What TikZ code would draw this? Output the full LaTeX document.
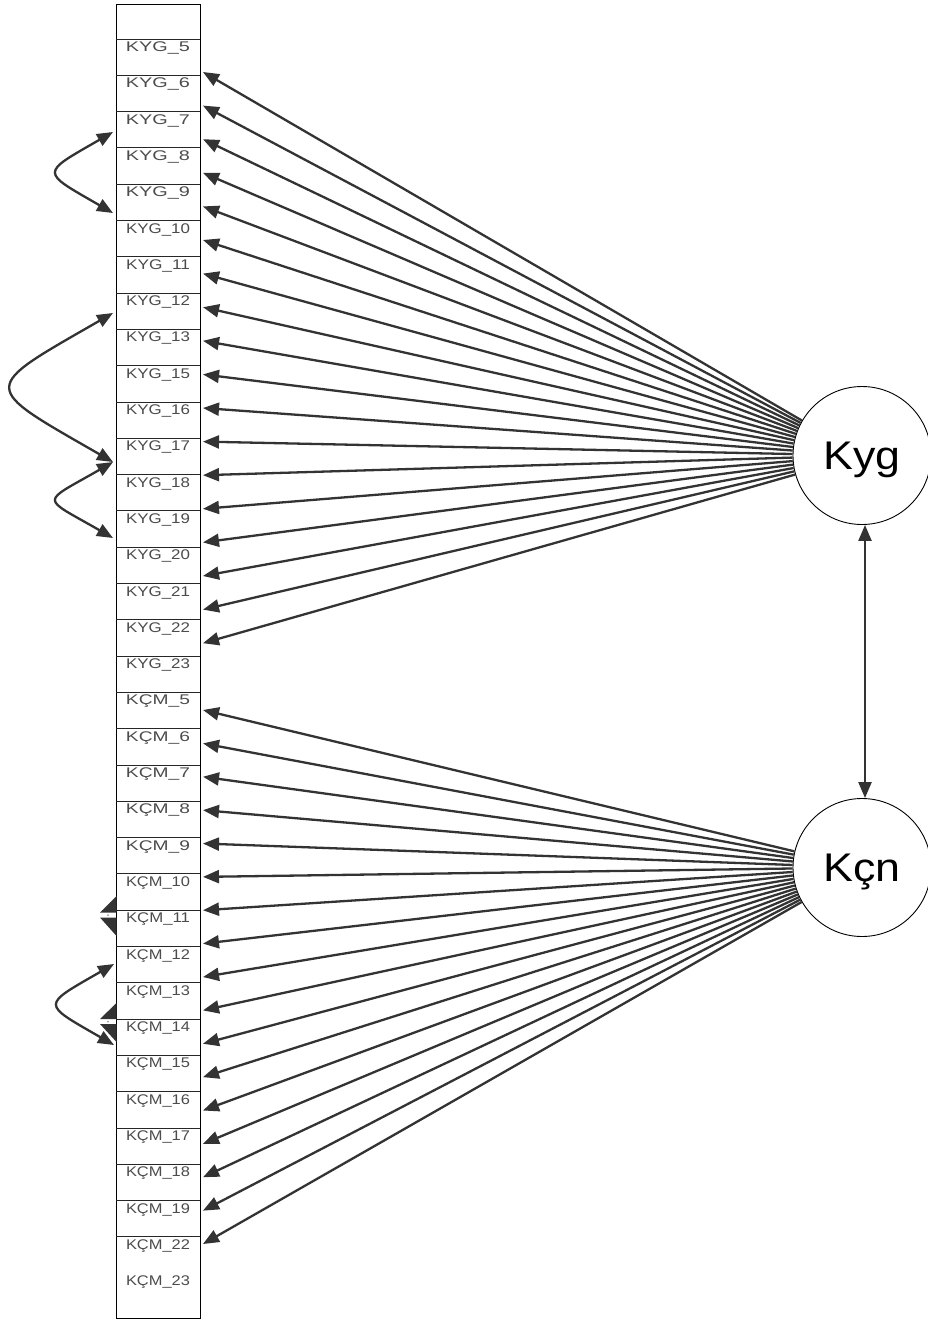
\documentclass[tikz,border=0pt]{standalone}
\usepackage{fontspec}
\usepackage{graphicx}
\setmainfont{Liberation Sans}
\usetikzlibrary{arrows.meta}
\definecolor{ln}{HTML}{333333}
\begin{document}
\begin{tikzpicture}[x=1pt,y=-1pt,
  arr/.style={draw=ln, line width=2.3pt, -{Triangle[length=16pt,width=13pt]}},
  dbl/.style={draw=ln, line width=2.3pt, {Triangle[length=16pt,width=13pt]}-{Triangle[length=16pt,width=13pt]}},
  lat/.style={circle, draw=black, line width=0.9pt, fill=white, minimum size=138pt, inner sep=0pt, text depth=0pt, font=\fontsize{40}{40}\selectfont},
  lbl/.style={inner sep=0pt, anchor=base, text=black!70, font=\fontsize{14}{14}\selectfont},
  cell/.style={draw=black!85, line width=1pt},
  colbox/.style={draw=black, line width=1.1pt, fill=white, minimum width=84pt, minimum height=1314pt, inner sep=0pt, anchor=north west}]
\useasboundingbox (0,0) rectangle (927,1320);
\fill[white] (0,0) rectangle (927,1320);
% column
\node[colbox] (col) at (116,4) {};
\foreach \i in {0,...,33} {
  \pgfmathsetmacro\yy{39+36.3*\i}
  \draw[cell] (116,\yy) -- (200,\yy);
}
\foreach \t [count=\i from 0] in {KYG\_5,KYG\_6,KYG\_7,KYG\_8,KYG\_9,KYG\_10,KYG\_11,KYG\_12,KYG\_13,KYG\_15,KYG\_16,KYG\_17,KYG\_18,KYG\_19,KYG\_20,KYG\_21,KYG\_22,KYG\_23,KÇM\_5,KÇM\_6,KÇM\_7,KÇM\_8,KÇM\_9,KÇM\_10,KÇM\_11,KÇM\_12,KÇM\_13,KÇM\_14,KÇM\_15,KÇM\_16,KÇM\_17,KÇM\_18,KÇM\_19,KÇM\_22,KÇM\_23} {
  \pgfmathsetmacro\yy{39+36.3*\i+12.5}
  \node[lbl] (r\i) at (158,\yy) {\resizebox{64pt}{\height}{\t}};
}
% latent variables
\node[lat] (kyg) at (862,455.5) {\scalebox{1.12}[1]{Kyg}};
\node[lat] (kcn) at (862,867.5) {\scalebox{1.12}[1]{Kçn}};
\draw[dbl] ([xshift=3pt]kyg.south) -- ([xshift=3pt]kcn.north);
% loadings
\foreach \i in {0,...,17} {
  \pgfmathsetmacro\yy{72+33.6*\i}
  \coordinate (ky\i) at (203,\yy);
  \draw[arr] (kyg) -- (ky\i);
}
\foreach \i in {0,...,16} {
  \pgfmathsetmacro\yy{710+33.375*\i}
  \coordinate (kc\i) at (203,\yy);
  \draw[arr] (kcn) -- (kc\i);
}
% covariances
\coordinate (c7) at (113,132);
\coordinate (c9) at (113,213);
\coordinate (c12) at (113,313);
\coordinate (c17) at (113,462);
\coordinate (c19) at (113,538);
\coordinate (m12) at (114,964);
\coordinate (m15) at (114,1045);
\draw[dbl] (c7) .. controls (40,174) and (40,171) .. (c9);
\draw[dbl] (c12) .. controls (-21,390) and (-21,385) .. (c17);
\draw[dbl] (c17) .. controls (40,504) and (40,496) .. (c19);
\draw[dbl] (m12) .. controls (41,1006) and (41,1003) .. (m15);
% degenerate loops
\fill[ln] (116.5,896) -- (116.5,912.5) -- (100,912.5) -- cycle;
\fill[ln] (116.5,917.5) -- (100,917.5) -- (116.5,936) -- cycle;
\fill[black!40] (108,915) circle (1pt);
\fill[ln] (116.5,1003) -- (116.5,1019) -- (100,1019) -- cycle;
\fill[ln] (116.5,1024) -- (100,1024) -- (116.5,1042) -- cycle;
\fill[black!40] (108,1021.5) circle (1pt);
\end{tikzpicture}
\end{document}
